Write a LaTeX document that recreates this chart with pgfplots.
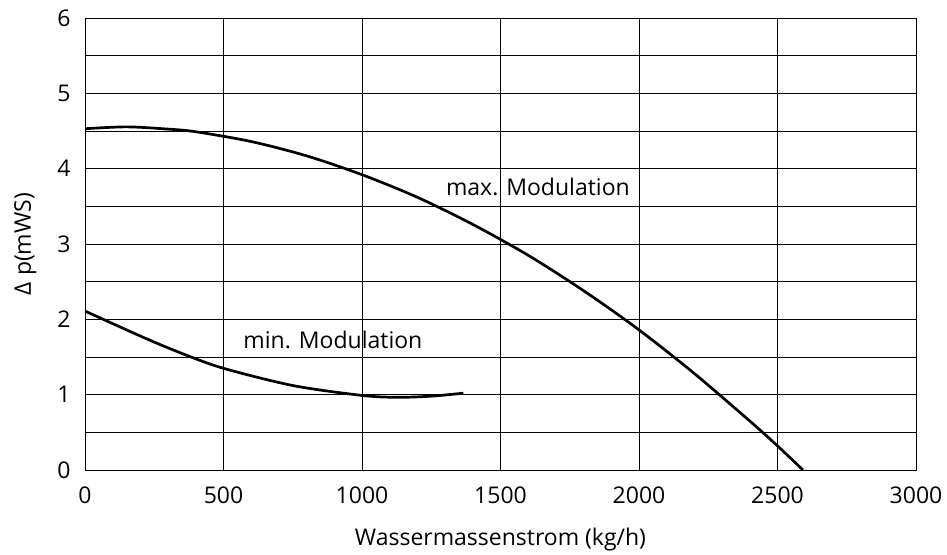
\documentclass[border=0pt]{standalone}
\usepackage{fontspec}
\setmainfont{Open Sans}
\usepackage{pgfplots}
\pgfplotsset{compat=1.18}
\begin{document}
\begin{tikzpicture}
\useasboundingbox (-85pt,-84pt) rectangle (862pt,470pt);
\begin{axis}[
  scale only axis,
  width=831pt, height=452pt,
  xmin=0, xmax=3000, ymin=0, ymax=6,
  xtick={0,500,...,3000}, ytick={0,1,...,6},
  minor ytick={0.5,1.5,...,5.5},
  grid=both,
  major grid style={black, line width=0.8pt},
  minor grid style={black, line width=0.8pt},
  axis line style={black, line width=0.9pt},
  major tick length=0pt, minor tick length=0pt,
  tick label style={font=\fontsize{23}{27}\selectfont},
  /pgf/number format/assume math mode=true,
  /pgf/number format/1000 sep={},
  xticklabel style={yshift=-13pt},
  yticklabel style={xshift=-11pt},
  xlabel={Wassermassenstrom (kg/h)},
  ylabel={Δ p(mWS)},
  label style={font=\fontsize{23}{27}\selectfont},
  xlabel style={yshift=-18pt},
  ylabel style={yshift=14pt},
]
\addplot[black, line width=2.7pt, smooth, tension=0.5] coordinates {
(0,4.53) (150,4.555) (300,4.525) (400,4.49) (600,4.36) (800,4.17) (1000,3.92) (1200,3.62)
(1400,3.26) (1600,2.85) (1800,2.38) (2000,1.86) (2200,1.28) (2400,0.65) (2500,0.32) (2592,0)
};
\addplot[black, line width=2.7pt, smooth, tension=0.5] coordinates {
(0,2.11) (211,1.76) (355,1.54) (500,1.35) (752,1.12) (1000,0.99) (1126,0.965) (1250,0.98) (1366,1.02)
};
\node[font=\fontsize{23}{27}\selectfont] at (axis cs:1635,3.76) {max. Modulation};
\node[font=\fontsize{23}{27}\selectfont] at (axis cs:895,1.73) {min. Modulation};
\end{axis}
\end{tikzpicture}
\end{document}
